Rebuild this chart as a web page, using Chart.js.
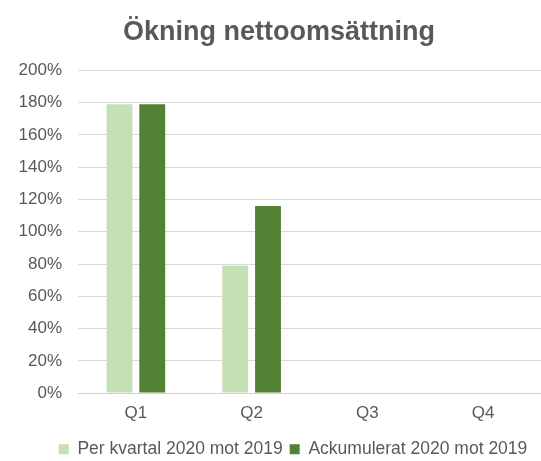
<!DOCTYPE html>
<html>
<head>
<meta charset="utf-8">
<script src="https://cdn.jsdelivr.net/npm/chart.js@4"></script>
<style>
  html, body { margin: 0; padding: 0; background: #fff; }
  #wrap { width: 541px; height: 461px; position: relative; }
</style>
</head>
<body>
<div id="wrap"><canvas id="chart"></canvas></div>
<script>
// data
const quarters = ["Q1", "Q2", "Q3", "Q4"];
const perKvartal = [179, 79, null, null];
const ackumulerat = [179, 116, null, null];

const txtColor = "#595959";
const font = "'Liberation Sans', Arial, sans-serif";

// title and legend are not centred on the (cropped) plot in the original
const shiftBoxes = {
  id: "shiftBoxes",
  afterLayout(chart) {
    chart.titleBlock.left -= 4;
    chart.titleBlock.right -= 4;
    chart.legend.left += 10;
    chart.legend.right += 10;
  },
};

const ctx = document.getElementById("chart").getContext("2d");
const chart = new Chart(ctx, {
  type: "bar",
  data: {
    labels: quarters,
    datasets: [
      {
        label: "Per kvartal 2020 mot 2019",
        backgroundColor: "#c5e0b4",
        data: perKvartal,
      },
      {
        label: "Ackumulerat 2020 mot 2019",
        backgroundColor: "#548235",
        data: ackumulerat,
      },
    ],
  },
  plugins: [shiftBoxes],
  options: {
    responsive: true,
    maintainAspectRatio: false,
    animation: false,
    datasets: {
      bar: { categoryPercentage: 0.566, barPercentage: 0.79 },
    },
    // plot runs past the right edge, the original image is cropped there
    layout: { padding: { left: 6, right: -19, top: 16, bottom: -7 } },
    plugins: {
      title: {
        display: true,
        text: "Ökning nettoomsättning",
        color: txtColor,
        font: { family: font, size: 27, weight: "bold" },
        padding: { top: 0, bottom: 22 },
      },
      legend: {
        position: "bottom",
        labels: {
          color: txtColor,
          font: { family: font, size: 17.5 },
          boxWidth: 10,
          boxHeight: 10,
          padding: 7,
        },
      },
      tooltip: { enabled: false },
    },
    scales: {
      x: {
        grid: { display: false, drawTicks: false },
        border: { color: "#d0d0d0", width: 1 },
        ticks: {
          color: txtColor,
          font: { family: font, size: 17 },
          padding: 10,
        },
      },
      y: {
        min: 0,
        max: 200,
        grid: { color: "#d9d9d9", drawTicks: false },
        border: { display: false },
        afterFit: (scale) => { scale.width = 72; },
        ticks: {
          stepSize: 20,
          color: txtColor,
          font: { family: font, size: 17 },
          padding: 16,
          callback: (v) => v + "%",
        },
      },
    },
  },
});
</script>
</body>
</html>
